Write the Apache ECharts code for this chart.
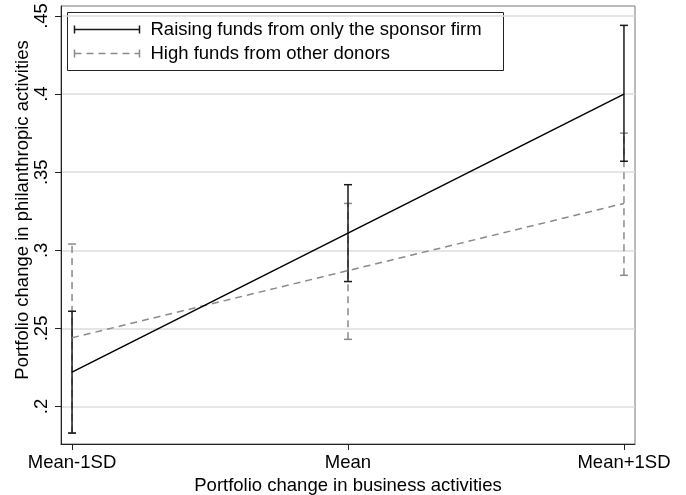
<!DOCTYPE html>
<html>
<head>
<meta charset="utf-8">
<script src="https://cdn.jsdelivr.net/npm/echarts@6/dist/echarts.min.js"></script>
<style>
  html, body { margin: 0; padding: 0; background: #fff; }
  #chart { width: 686px; height: 495px; }
</style>
</head>
<body>
<div id="chart"></div>
<script>
// x positions: -1 = Mean-1SD, 0 = Mean, 1 = Mean+1SD
const xPos = [-1, 0, 1]
const xLabels = ["Mean-1SD", "Mean", "Mean+1SD"]
const yTicks = [0.2, 0.25, 0.3, 0.35, 0.4, 0.45]

// Raising funds from only the sponsor firm
const sponsorMean = [0.222, 0.311, 0.400]
const sponsorLow = [0.183, 0.280, 0.357]
const sponsorHigh = [0.261, 0.342, 0.444]

// High funds from other donors
const donorMean = [0.244, 0.287, 0.330]
const donorLow = [0.183, 0.243, 0.284]
const donorHigh = [0.304, 0.330, 0.375]

const font = "Liberation Sans, Arial, sans-serif"
const fs = 18.5
const blackCol = "#1a1a1a"
const grayCol = "#8a8a8a"

const chart = echarts.init(document.getElementById("chart"))

// 误差线 (error bar with caps)
const errBar = (color, dashed) => (params, api) => {
  const x = api.value(0)
  const lo = api.coord([x, api.value(1)])
  const hi = api.coord([x, api.value(2)])
  const cap = 4
  const style = { stroke: color, lineWidth: 1.5, lineDash: dashed ? [7, 5] : null }
  return {
    type: "group",
    children: [
      { type: "line", shape: { x1: lo[0], y1: lo[1], x2: hi[0], y2: hi[1] }, style },
      { type: "line", shape: { x1: lo[0] - cap, y1: lo[1], x2: lo[0] + cap, y2: lo[1] }, style: { stroke: color, lineWidth: 1.5 } },
      { type: "line", shape: { x1: hi[0] - cap, y1: hi[1], x2: hi[0] + cap, y2: hi[1] }, style: { stroke: color, lineWidth: 1.5 } },
    ],
  }
}

const option = {
  animation: false,
  grid: {
    left: 61, right: 51, top: 6, bottom: 51,
    outerBoundsMode: "none",
    containLabel: false,
    show: true, borderColor: "#777", borderWidth: 1,
  },
  xAxis: {
    type: "value",
    min: -1.04, max: 1.04,
    name: "Portfolio change in business activities",
    nameLocation: "middle",
    nameGap: 30,
    nameTextStyle: { fontFamily: font, fontSize: fs, color: "#000" },
    axisLine: { show: true, onZero: false, lineStyle: { color: "#222", width: 1 } },
    axisTick: { show: true, customValues: xPos, length: 6, lineStyle: { color: "#222" } },
    axisLabel: {
      customValues: xPos,
      fontFamily: font, fontSize: fs, color: "#000", margin: 9,
      formatter: (v) => xLabels[xPos.indexOf(Math.round(v))],
    },
    splitLine: { show: false },
  },
  yAxis: {
    type: "value",
    min: 0.176, max: 0.4564,
    name: "Portfolio change in philanthropic activities",
    nameLocation: "middle",
    nameMoveOverlap: false,
    nameGap: 29,
    nameTextStyle: { fontFamily: font, fontSize: fs, color: "#000", padding: [0, 0, 0, 30] },
    axisLine: { show: true, onZero: false, lineStyle: { color: "#222", width: 1 } },
    axisTick: { show: true, customValues: yTicks, length: 6, lineStyle: { color: "#222" } },
    axisLabel: {
      customValues: yTicks,
      rotate: 90,
      fontFamily: font, fontSize: fs, color: "#000", margin: 10,
      formatter: (v) => String(+v.toFixed(2)).replace(/^0/, ""),
    },
    splitLine: { show: true, customValues: yTicks, lineStyle: { color: "#dcdcdc", width: 1.5 } },
  },
  graphic: [
    {
      type: "group", left: 67, top: 12, z: 100,
      children: [
        { type: "rect", shape: { x: 0, y: 0, width: 436, height: 58 }, style: { fill: "#fff", stroke: "#222", lineWidth: 1 } },
        { type: "line", shape: { x1: 7, y1: 17, x2: 72, y2: 17 }, style: { stroke: blackCol, lineWidth: 1.5 } },
        { type: "line", shape: { x1: 7, y1: 13, x2: 7, y2: 21 }, style: { stroke: blackCol, lineWidth: 1.5 } },
        { type: "line", shape: { x1: 72, y1: 13, x2: 72, y2: 21 }, style: { stroke: blackCol, lineWidth: 1.5 } },
        { type: "text", x: 83, y: 17, style: { text: "Raising funds from only the sponsor firm", font: fs + "px " + font, fill: "#000", verticalAlign: "middle" } },
        { type: "line", shape: { x1: 7, y1: 41, x2: 72, y2: 41 }, style: { stroke: grayCol, lineWidth: 1.5, lineDash: [7, 5] } },
        { type: "line", shape: { x1: 7, y1: 37, x2: 7, y2: 45 }, style: { stroke: grayCol, lineWidth: 1.5 } },
        { type: "line", shape: { x1: 72, y1: 37, x2: 72, y2: 45 }, style: { stroke: grayCol, lineWidth: 1.5 } },
        { type: "text", x: 83, y: 41, style: { text: "High funds from other donors", font: fs + "px " + font, fill: "#000", verticalAlign: "middle" } },
      ],
    },
  ],
  series: [
    {
      name: "High funds from other donors (CI)",
      type: "custom",
      renderItem: errBar(grayCol, true),
      data: xPos.map((x, i) => [x, donorLow[i], donorHigh[i]]),
      z: 2,
    },
    {
      name: "Raising funds from only the sponsor firm (CI)",
      type: "custom",
      renderItem: errBar(blackCol, false),
      data: xPos.map((x, i) => [x, sponsorLow[i], sponsorHigh[i]]),
      z: 3,
    },
    {
      name: "High funds from other donors",
      type: "line",
      symbol: "none",
      lineStyle: { color: grayCol, width: 1.5, type: [7, 5] },
      data: xPos.map((x, i) => [x, donorMean[i]]),
      z: 4,
    },
    {
      name: "Raising funds from only the sponsor firm",
      type: "line",
      symbol: "none",
      lineStyle: { color: "#000", width: 1.5 },
      data: xPos.map((x, i) => [x, sponsorMean[i]]),
      z: 5,
    },
  ],
}
chart.setOption(option)
</script>
</body>
</html>
